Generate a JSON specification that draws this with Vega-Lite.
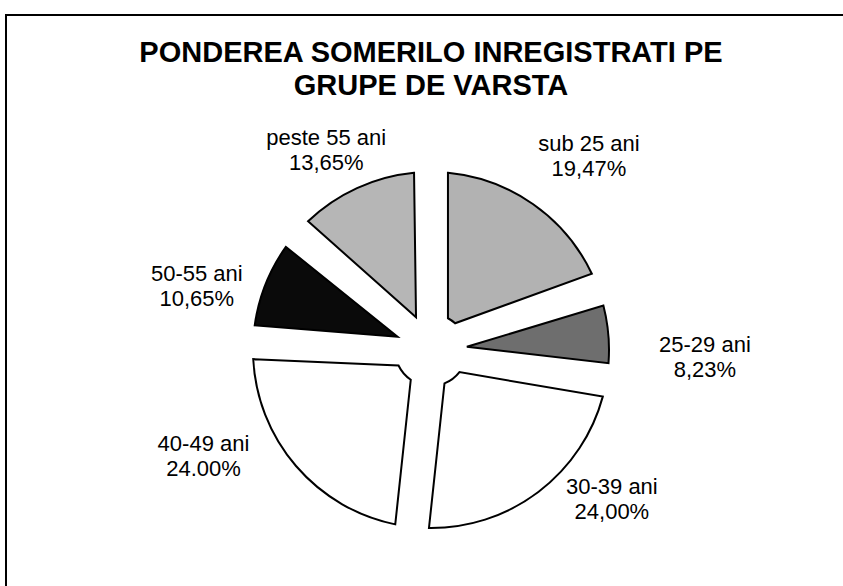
{
  "$schema": "https://vega.github.io/schema/vega-lite/v6.json",
  "autosize": {"type": "none"},
  "padding": {"left": 6, "top": 15, "right": 0, "bottom": 0},
  "width": 850,
  "height": 670,
  "background": "white",
  "config": {
    "view": {"stroke": null},
    "font": "Liberation Sans"
  },
  "title": {
    "text": ["PONDEREA SOMERILO INREGISTRATI PE", "GRUPE DE VARSTA"],
    "font": "Liberation Sans",
    "fontSize": 29,
    "fontWeight": "bold",
    "color": "black",
    "lineHeight": 33,
    "anchor": "middle",
    "offset": -95,
    "dy": 42
  },
  "data": {
    "values": [
      {"grupa": "sub 25 ani", "procent": 19.47, "eticheta": "sub 25 ani\n19,47%", "rank": 1},
      {"grupa": "25-29 ani", "procent": 8.23, "eticheta": "25-29 ani\n8,23%", "rank": 2},
      {"grupa": "30-39 ani", "procent": 24.0, "eticheta": "30-39 ani\n24,00%", "rank": 3},
      {"grupa": "40-49 ani", "procent": 24.0, "eticheta": "40-49 ani\n24.00%", "rank": 4},
      {"grupa": "50-55 ani", "procent": 10.65, "eticheta": "50-55 ani\n10,65%", "rank": 5},
      {"grupa": "peste 55 ani", "procent": 13.65, "eticheta": "peste 55 ani\n13,65%", "rank": 6}
    ]
  },
  "layer": [
    {
      "data": {"values": [{"cadru": 1}]},
      "mark": {"type": "rect", "fill": null, "stroke": "black", "strokeWidth": 2},
      "encoding": {}
    },
    {
      "mark": {"type": "arc", "outerRadius": 178, "innerRadius": 36, "padAngle": 0.187, "stroke": "black", "strokeWidth": 2},
      "encoding": {
        "theta": {"field": "procent", "type": "quantitative", "stack": true},
        "order": {"field": "rank", "type": "quantitative"},
        "color": {
          "field": "grupa",
          "type": "nominal",
          "scale": {
            "domain": ["sub 25 ani", "25-29 ani", "30-39 ani", "40-49 ani", "50-55 ani", "peste 55 ani"],
            "range": ["#b2b2b2", "#6e6e6e", "#ffffff", "#ffffff", "#0a0a0a", "#b6b6b6"]
          },
          "legend": null
        }
      }
    },
    {
      "mark": {"type": "text", "radius": 275, "dy": 19, "fontSize": 22, "lineHeight": 25, "lineBreak": "\n", "color": "black", "align": "center", "baseline": "middle"},
      "encoding": {
        "theta": {"field": "procent", "type": "quantitative", "stack": true},
        "order": {"field": "rank", "type": "quantitative"},
        "text": {
          "condition": {"test": "datum.grupa === 'sub 25 ani' || datum.grupa === '25-29 ani'", "field": "eticheta"},
          "value": ""
        }
      }
    },
    {
      "mark": {"type": "text", "radius": 252, "dy": 17, "fontSize": 22, "lineHeight": 25, "lineBreak": "\n", "color": "black", "align": "center", "baseline": "middle"},
      "encoding": {
        "theta": {"field": "procent", "type": "quantitative", "stack": true},
        "order": {"field": "rank", "type": "quantitative"},
        "text": {
          "condition": {"test": "datum.grupa === '50-55 ani' || datum.grupa === 'peste 55 ani'", "field": "eticheta"},
          "value": ""
        }
      }
    },
    {
      "mark": {"type": "text", "radius": 300, "dy": -102, "fontSize": 22, "lineHeight": 25, "lineBreak": "\n", "color": "black", "align": "center", "baseline": "middle"},
      "encoding": {
        "theta": {"field": "procent", "type": "quantitative", "stack": true},
        "order": {"field": "rank", "type": "quantitative"},
        "text": {
          "condition": {"test": "datum.grupa === '30-39 ani' || datum.grupa === '40-49 ani'", "field": "eticheta"},
          "value": ""
        }
      }
    }
  ]
}
